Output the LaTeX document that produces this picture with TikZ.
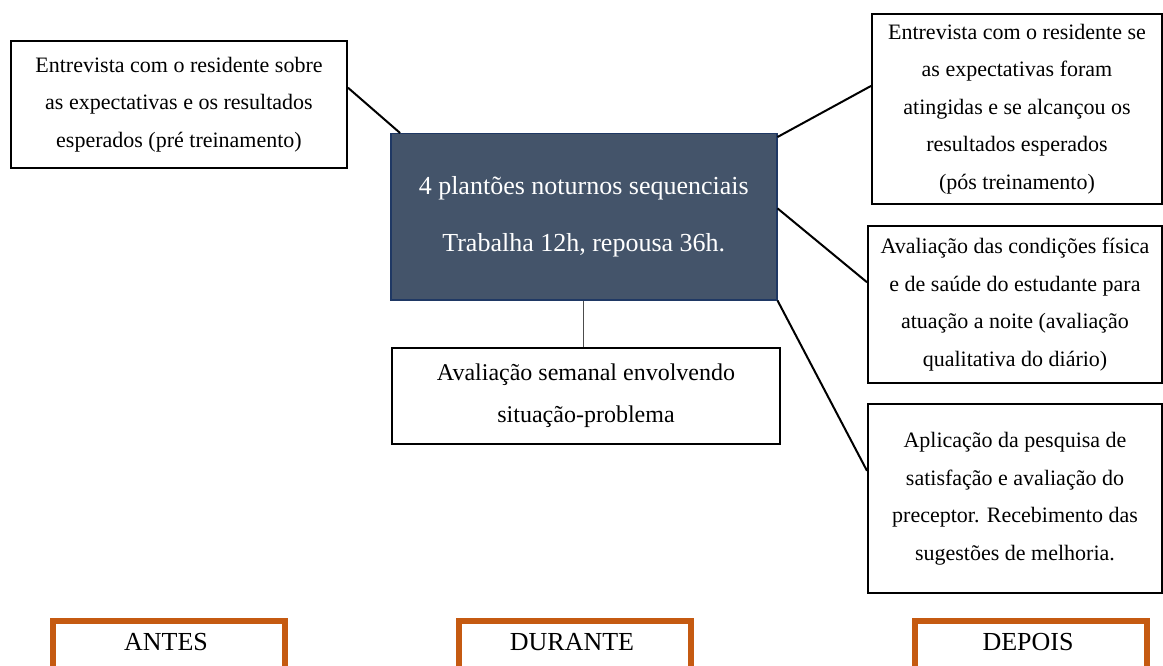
\documentclass[tikz,border=0pt]{standalone}
\usepackage{fontspec}
\setmainfont{Liberation Serif}
\usetikzlibrary{calc}
\definecolor{slate}{HTML}{44546A}
\definecolor{slateborder}{HTML}{1F3864}
\definecolor{tabor}{HTML}{C55A11}
\tikzset{
  x=1pt,y=-1pt,
  infobox/.style={draw=black,line width=2pt,fill=white,align=center,inner sep=0pt,
    font=\fontsize{22}{37.5}\selectfont,anchor=north west},
  mainbox/.style={draw=slateborder,line width=1.5pt,fill=slate,text=white,align=center,inner sep=0pt,
    font=\fontsize{26}{57}\selectfont,anchor=north west},
  tabbox/.style={draw=tabor,line width=6pt,fill=white,inner sep=0pt,anchor=north west,
    minimum width=232pt,minimum height=80pt},
  tablabel/.style={font=\fontsize{26}{30}\selectfont},
  link/.style={draw=black,line width=2pt},
  thinlink/.style={draw=black!70,line width=1pt}
}
\begin{document}
\begin{tikzpicture}
\useasboundingbox (0,0) rectangle (1163,666);
\clip (0,0) rectangle (1163,666);
% boxes
\node[infobox,minimum width=336pt,minimum height=127pt] (A) at (10,40)
  {Entrevista com o residente sobre\\as expectativas e os resultados\\esperados (pré treinamento)};
\node[mainbox,minimum width=386pt,minimum height=166pt] (M) at (390,133)
  {4 plantões noturnos sequenciais\\Trabalha 12h, repousa 36h.};
\node[infobox,minimum width=290pt,minimum height=190pt] (B) at (871,13)
  {Entrevista com o residente se\\as expectativas foram\\atingidas e se alcançou os\\resultados esperados\\(pós treinamento)};
\node[infobox,minimum width=294pt,minimum height=157pt] (C) at (867,225)
  {Avaliação das condições física\\e de saúde do estudante para\\atuação a noite (avaliação\\qualitativa do diário)};
\node[infobox,minimum width=294pt,minimum height=189pt] (D) at (867,403)
  {Aplicação da pesquisa de\\satisfação e avaliação do\\preceptor. Recebimento das\\sugestões de melhoria.};
\node[infobox,minimum width=388pt,minimum height=96pt,font=\fontsize{24}{42}\selectfont] (E) at (391,347)
  {Avaliação semanal envolvendo\\situação-problema};
% connectors
\draw[link] ($(A.north east)!0.37!(A.south east)$) -- ($(M.north west)!0.026!(M.north east)$);
\draw[link] ($(M.north east)!0.024!(M.south east)$) -- ($(B.north west)!0.38!(B.south west)$);
\draw[link] ($(M.north east)!0.45!(M.south east)$) -- ($(C.north west)!0.36!(C.south west)$);
\draw[link] (M.south east) -- ($(D.north west)!0.355!(D.south west)$);
\draw[thinlink] (M.south) -- (M.south |- E.north);
% bottom tabs
\node[tabbox] (T1) at (50,618) {};
\node[tabbox] (T2) at (456,618) {};
\node[tabbox] (T3) at (912,618) {};
\node[tablabel] (L1) at (166,642) {ANTES};
\node[tablabel] (L2) at (572,642) {DURANTE};
\node[tablabel] (L3) at (1028,642) {DEPOIS};
\end{tikzpicture}
\end{document}
